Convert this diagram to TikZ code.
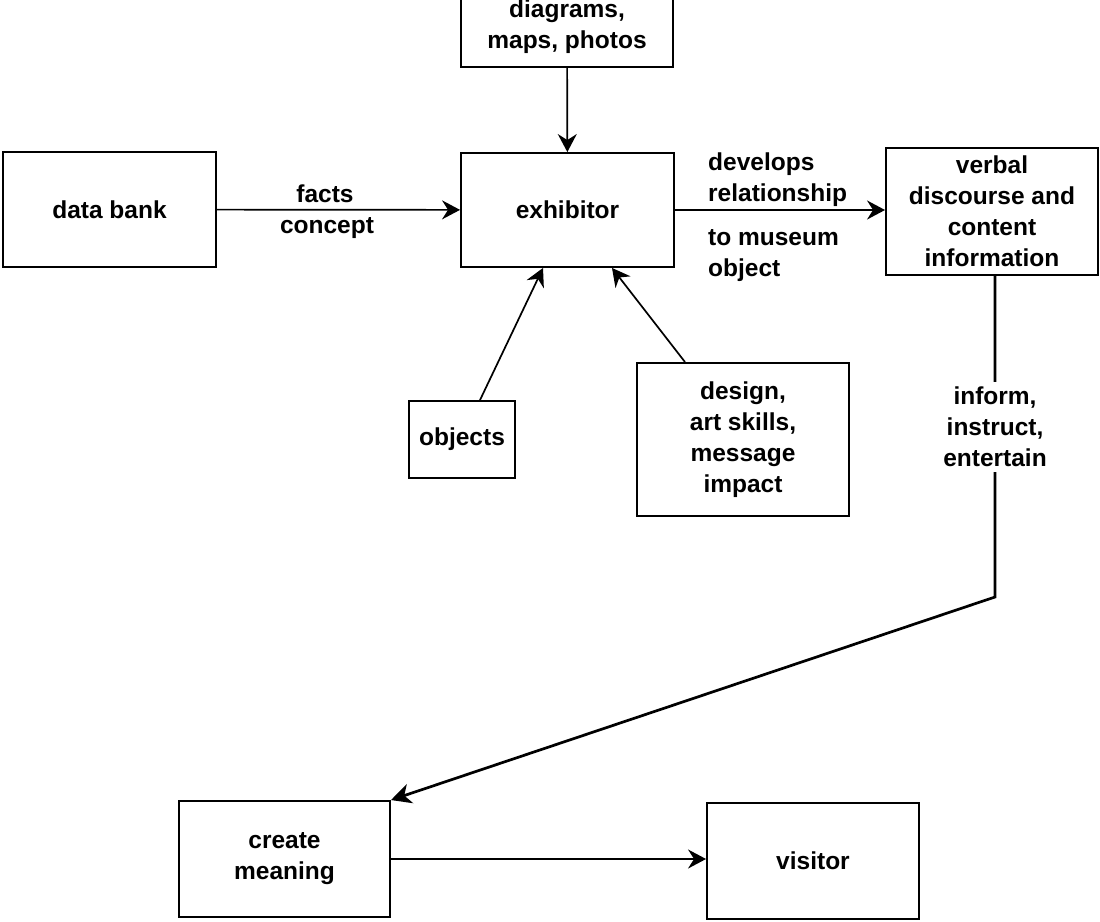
\documentclass[tikz,border=0pt]{standalone}
\usepackage{fontspec}
\setmainfont{Liberation Sans}
\usetikzlibrary{arrows.meta}
\begin{document}
\begin{tikzpicture}[x=1pt,y=-1pt,
  box/.style={draw,line width=1.9pt,align=center,inner sep=0pt,
    font=\fontsize{24.5}{31}\selectfont\bfseries},
  lbl/.style={align=center,inner sep=1pt,font=\fontsize{24.5}{31}\selectfont\bfseries},
  arr/.style={line width=1.7pt,-{Stealth[length=18pt,width=19pt,inset=6pt]}},
  thickarr/.style={line width=2.7pt,-{Stealth[length=20pt,width=20pt,inset=6pt]}}]
\useasboundingbox (0,0) rectangle (1100,921);
\node[box,minimum width=212pt,minimum height=80pt] (diag) at (567,27) {diagrams,\\maps, photos};
\node[box,minimum width=213pt,minimum height=114pt] (exhib) at (567.5,210) {exhibitor};
\node[box,minimum width=213pt,minimum height=115pt] (data) at (109.5,209.5) {data bank};
\node[box,minimum width=212pt,minimum height=127pt] (verbal) at (992,211.5) {verbal\\discourse and\\content\\information};
\node[box,minimum width=106pt,minimum height=77pt] (objects) at (462,439.5) {objects};
\node[box,minimum width=212pt,minimum height=153pt] (design) at (743,439.5) {design,\\art skills,\\message\\impact};
\node[box,minimum width=211pt,minimum height=116pt] (create) at (284.5,859) {create\\meaning};
\node[box,minimum width=212pt,minimum height=116pt] (visitor) at (813,861) {visitor};
% connectors
\draw[arr] (data) -- (exhib);
\node[lbl] (facts) at (325,194) {facts};
\node[lbl] (concept) at (327,228) {concept};
\draw[arr] (diag) -- (exhib);
\draw[arr] (exhib.east) -- (exhib.east -| verbal.west);
\node[lbl,align=left,anchor=west] (dev) at (707,180) {develops\\relationship};
\node[lbl,align=left,anchor=west] (mus) at (707,256) {to museum\\object};
\draw[arr] ([xshift=18pt]objects.north) -- ([xshift=-24.5pt]exhib.south);
\draw[arr] ([xshift=-58pt]design.north) -- ([xshift=44.5pt]exhib.south);
\coordinate (bend) at (995,597);
\draw[thickarr] ([xshift=3pt]verbal.south) -- (bend) -- (create.north east);
\node[lbl,fill=white,inner sep=5pt] (inform) at (995,427) {inform,\\instruct,\\entertain};
\draw[arr] (create.east) -- (create.east -| visitor.west);
\end{tikzpicture}
\end{document}
